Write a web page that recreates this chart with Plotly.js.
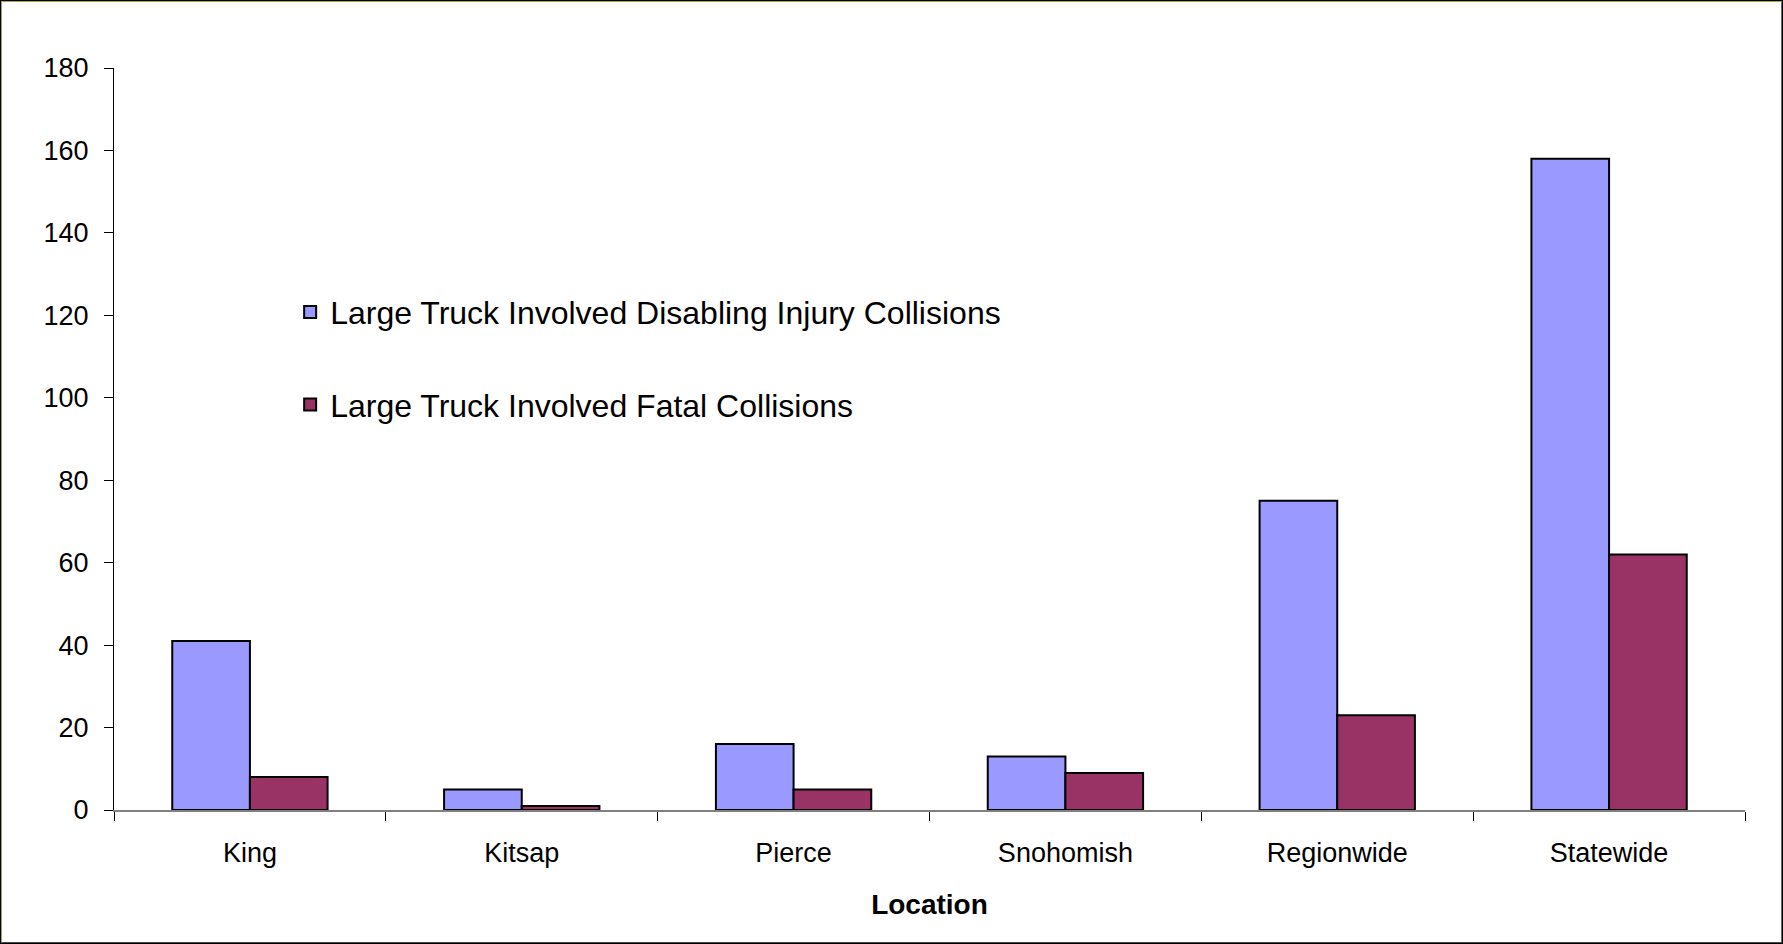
<!DOCTYPE html>
<html>
<head>
<meta charset="utf-8">
<script src="https://cdn.plot.ly/plotly-3.0.1.min.js"></script>
<style>
  html, body { margin: 0; padding: 0; background: #fff; }
  #frame { position: absolute; left: 0; top: 0; width: 1783px; height: 944px; box-sizing: border-box;
           border-style: solid; border-width: 2px; border-color: #a8a838 #666 #444 #a8a838; outline: 1px solid #000; outline-offset: -1px; }
  #chart { position: absolute; left: 0; top: 0; width: 1783px; height: 944px; }
</style>
</head>
<body>
<div id="chart"></div>
<div id="frame"></div>
<script>
const categories = ["King", "Kitsap", "Pierce", "Snohomish", "Regionwide", "Statewide"];
const disablingInjury = [41, 5, 16, 13, 75, 158];
const fatal = [8, 1, 5, 9, 23, 62];
const seriesNames = ["Large Truck Involved Disabling Injury Collisions", "Large Truck Involved Fatal Collisions"];
const yTicks = [0, 20, 40, 60, 80, 100, 120, 140, 160, 180];

const FONT = "Liberation Sans, Arial, sans-serif";

const traces = [
  { type: "bar", x: categories, y: disablingInjury, name: seriesNames[0], legendgroup: "a",
    marker: { color: "#9999FF", line: { color: "#000000", width: 2 } }, hoverinfo: "x+y+name" },
  { type: "bar", x: categories, y: fatal, name: seriesNames[1], legendgroup: "b",
    marker: { color: "#993366", line: { color: "#000000", width: 2 } }, hoverinfo: "x+y+name" }
];

const layout = {
  width: 1783, height: 944,
  paper_bgcolor: "#ffffff", plot_bgcolor: "#ffffff",
  margin: { l: 114, r: 38, t: 68, b: 134 },
  barmode: "group",
  bargap: 0.4286, bargroupgap: 0,
  font: { family: FONT, color: "#000" },
  showlegend: true,
  legend: { x: 0.108, y: 0.708, xanchor: "left", yanchor: "top", bgcolor: "rgba(0,0,0,0)",
            font: { family: FONT, size: 32, color: "#000" }, tracegroupgap: 48, traceorder: "grouped" },
  xaxis: {
    type: "category", tickson: "boundaries", ticks: "outside", ticklen: 9, tickcolor: "#000", tickwidth: 1,
    showline: true, linecolor: "#808080", linewidth: 2, showgrid: false, zeroline: false,
    ticklabelstandoff: 18,
    tickfont: { family: FONT, size: 27, color: "#000" },
    title: { text: "<b>Location</b>", font: { family: FONT, size: 28, color: "#000" }, standoff: 27 }
  },
  yaxis: {
    range: [0, 180], tickvals: yTicks, ticktext: yTicks.map(String),
    ticks: "outside", ticklen: 9, tickcolor: "#000", tickwidth: 1,
    showline: true, linecolor: "#000", linewidth: 1, showgrid: false, zeroline: false,
    ticklabelstandoff: 10,
    tickfont: { family: FONT, size: 27, color: "#000" }
  }
};

Plotly.newPlot("chart", traces, layout, { displayModeBar: false, staticPlot: true });
</script>
</body>
</html>
